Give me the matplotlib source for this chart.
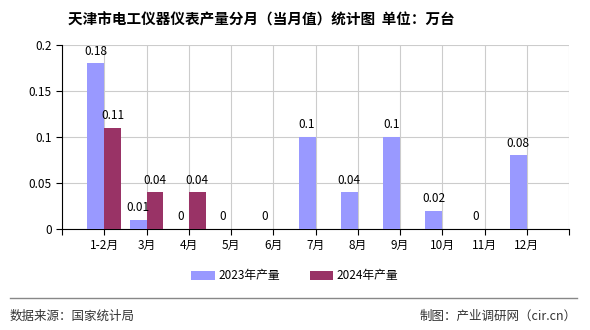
import matplotlib
matplotlib.use("Agg")
from matplotlib import pyplot as plt
import numpy as np

plt.rcParams['font.family'] = ['Noto Sans CJK SC', 'DejaVu Sans']

months = ["1-2月", "3月", "4月", "5月", "6月", "7月", "8月", "9月", "10月", "11月", "12月"]
prod_2023 = [0.18, 0.01, 0, 0, 0, 0.1, 0.04, 0.1, 0.02, 0, 0.08]
prod_2024 = [0.11, 0.04, 0.04]
yticks = [0, 0.05, 0.1, 0.15, 0.2]
ytick_labels = ["0", "0.05", "0.1", "0.15", "0.2"]

c23 = "#9999FF"
c24 = "#993366"
w = 0.4

fig = plt.figure(figsize=(5.9, 3.3), dpi=100)
ax = fig.add_axes([62 / 590, 1 - 229 / 330, (569 - 62) / 590, (229 - 45) / 330])

x23 = np.arange(1, len(prod_2023) + 1)
x24 = np.arange(1, len(prod_2024) + 1)
ax.bar(x23 - w / 2, prod_2023, w, color=c23, label="2023年产量", zorder=3)
ax.bar(x24 + w / 2, prod_2024, w, color=c24, label="2024年产量", zorder=3)

for xi, v in zip(x23, prod_2023):
    ax.text(xi - w / 2, v + 0.006, f"{v:g}", ha="center", va="bottom", fontsize=8.5, zorder=4)
for xi, v in zip(x24, prod_2024):
    ax.text(xi + w / 2, v + 0.006, f"{v:g}", ha="center", va="bottom", fontsize=8.5, zorder=4)

ax.set_xlim(0, 12)
ax.set_ylim(0, 0.2)
ax.set_xticks(np.arange(0, 13))
ax.set_xticklabels([""] + months + [""], fontsize=8.5)
ax.set_yticks(yticks)
ax.set_yticklabels(ytick_labels, fontsize=8.5)
ax.grid(True, color="#cccccc", linewidth=0.8, zorder=0)
ax.spines["top"].set_visible(False)
ax.spines["right"].set_visible(False)
ax.tick_params(axis="both", direction="out", length=4, width=0.8, color="black")

fig.text(261 / 590, 1 - 20 / 330, "天津市电工仪器仪表产量分月（当月值）统计图  单位：万台",
         ha="center", va="center", fontsize=10.5, fontweight="bold")

fig.legend(loc="center", bbox_to_anchor=(0.5, 1 - 276 / 330), ncol=2, frameon=False,
           fontsize=8.5, handlelength=2, handleheight=0.9, columnspacing=2.5, handletextpad=0.3)

fig.add_artist(plt.Line2D([10 / 590, 577 / 590], [1 - 298 / 330] * 2, color="#888888", linewidth=1))
fig.text(10 / 590, 1 - 316 / 330, "数据来源：国家统计局", ha="left", va="center", fontsize=9, color="#333333")
fig.text(577 / 590, 1 - 316 / 330, "制图：产业调研网（cir.cn）", ha="right", va="center", fontsize=9, color="#333333")

fig.savefig("out.png", dpi=100)
